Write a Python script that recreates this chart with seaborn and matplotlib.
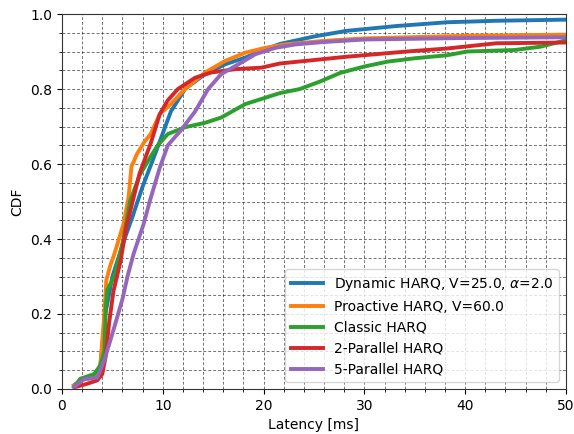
import matplotlib
matplotlib.use("Agg")
import matplotlib.pyplot as plt
from matplotlib.ticker import MultipleLocator
import seaborn as sns
import pandas as pd

labels = [r"Dynamic HARQ, V=25.0, $\alpha$=2.0", "Proactive HARQ, V=60.0",
          "Classic HARQ", "2-Parallel HARQ", "5-Parallel HARQ"]

dyn_x = [1.2, 2, 3, 3.8, 4.3, 5, 6.2, 7, 8, 9, 9.7, 10.8, 12.2, 14.2, 16.2, 18.2, 20.2,
         21.6, 25, 28.2, 33.2, 38.2, 43.1, 50]
dyn_y = [0.01, 0.025, 0.03, 0.06, 0.2, 0.3, 0.40, 0.46, 0.54, 0.61, 0.66, 0.74, 0.80, 0.84,
         0.866, 0.884, 0.906, 0.92, 0.94, 0.955, 0.968, 0.978, 0.982, 0.985]

pro_x = [1.2, 2, 3, 3.8, 4.2, 4.4, 4.8, 5.2, 6.1, 6.6, 6.9, 7.1, 7.4, 8.2, 8.8, 9.7, 10.8,
         12.2, 14.2, 16.2, 18.2, 20.2, 22.2, 25.8, 30, 40, 50]
pro_y = [0.01, 0.025, 0.03, 0.06, 0.2, 0.29, 0.33, 0.36, 0.44, 0.51, 0.595, 0.605, 0.625,
         0.66, 0.68, 0.733, 0.76, 0.80, 0.844, 0.875, 0.897, 0.91, 0.919, 0.928, 0.935,
         0.942, 0.945]

cla_x = [1.2, 1.8, 3.2, 3.8, 4.2, 4.35, 4.5, 5.2, 6.1, 6.75, 7.7, 8.8, 9.5, 10.5, 12.2,
         14.2, 15.8, 18.2, 20.2, 21.6, 23.6, 25.6, 27.6, 30, 32.3, 35, 38.2, 40.2, 44.9,
         47.5, 50]
cla_y = [0.005, 0.027, 0.04, 0.063, 0.10, 0.22, 0.265, 0.30, 0.40, 0.50, 0.57, 0.62, 0.65,
         0.68, 0.698, 0.71, 0.724, 0.76, 0.777, 0.789, 0.80, 0.82, 0.843, 0.86, 0.873,
         0.882, 0.89, 0.90, 0.904, 0.913, 0.93]

par2_x = [1.3, 2.5, 3.5, 4.0, 4.33, 4.67, 5.1, 5.8, 6.4, 7.1, 7.7, 8.8, 9.7, 10.5, 11.5,
          13.2, 14.8, 17.2, 19.8, 21.6, 24.9, 28.2, 34.2, 38.2, 43.1, 50]
par2_y = [0.005, 0.014, 0.023, 0.04, 0.086, 0.175, 0.26, 0.34, 0.435, 0.51, 0.575, 0.655,
          0.733, 0.77, 0.80, 0.83, 0.844, 0.853, 0.857, 0.868, 0.877, 0.886, 0.90, 0.908,
          0.922, 0.924]

par5_x = [1.2, 2.2, 3.5, 4.2, 4.8, 5.3, 6.0, 6.5, 7.1, 8.1, 8.7, 9.7, 10.5, 11.8, 13.2,
          14.5, 15.8, 17.5, 19.2, 21.2, 23.2, 25.8, 30, 40, 50]
par5_y = [0.005, 0.027, 0.03, 0.077, 0.13, 0.175, 0.24, 0.30, 0.36, 0.44, 0.50, 0.59,
          0.65, 0.69, 0.74, 0.80, 0.84, 0.866, 0.893, 0.91, 0.919, 0.925, 0.932, 0.936,
          0.938]

series = [(dyn_x, dyn_y), (pro_x, pro_y), (cla_x, cla_y), (par2_x, par2_y), (par5_x, par5_y)]
frames = []
for lab, (xs, ys) in zip(labels, series):
    frames.append(pd.DataFrame({"Latency": xs, "CDF": ys, "Scheme": lab}))
df = pd.concat(frames, ignore_index=True)

fig = plt.figure(figsize=(5.74, 4.34), dpi=100)
ax = fig.add_axes([0.108, 0.1037, 0.878, 0.864])
sns.lineplot(data=df, x="Latency", y="CDF", hue="Scheme", hue_order=labels,
             palette=sns.color_palette("tab10", 5), linewidth=2.8, estimator=None,
             sort=False, ax=ax)

ax.set_xlim(0, 50)
ax.set_ylim(0, 1.0)
ax.xaxis.set_major_locator(MultipleLocator(10))
ax.xaxis.set_minor_locator(MultipleLocator(2))
ax.yaxis.set_major_locator(MultipleLocator(0.2))
ax.yaxis.set_minor_locator(MultipleLocator(0.05))
ax.grid(which="both", linestyle=(0, (3, 2)), color="black", linewidth=0.7, alpha=0.55)
ax.set_axisbelow(True)
ax.set_xlabel("Latency [ms]")
ax.set_ylabel("CDF")
for s in ax.spines.values():
    s.set_color("#333333")
ax.legend(loc="lower right", fontsize=10, framealpha=0.8, handlelength=2.3)
fig.savefig("out.png", dpi=100)
